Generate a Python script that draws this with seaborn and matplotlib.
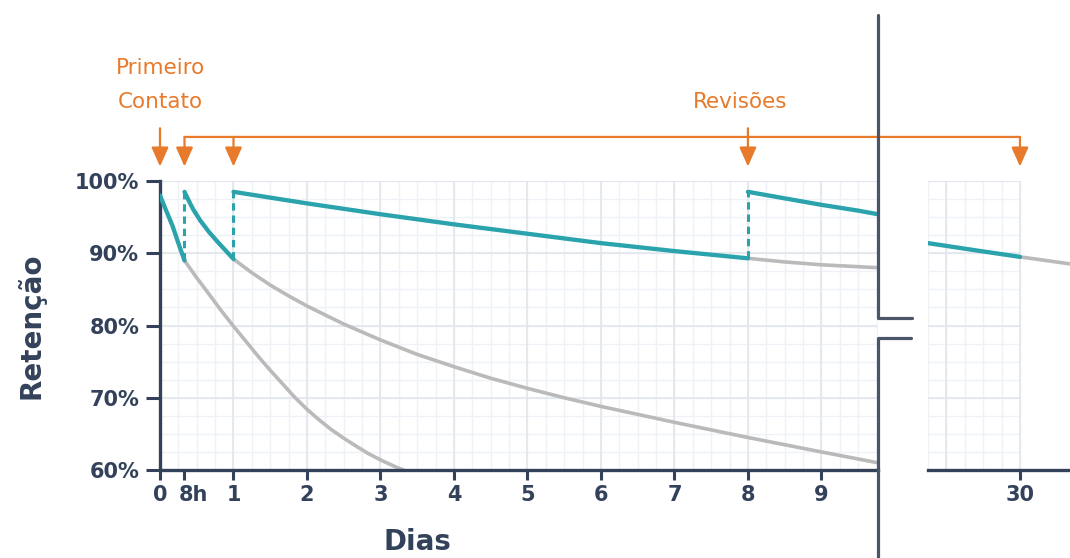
import numpy as np
import pandas as pd
import matplotlib
matplotlib.use('Agg')
import matplotlib.pyplot as plt
import matplotlib.transforms as mtransforms
from matplotlib.lines import Line2D
from matplotlib.patches import ConnectionPatch
import seaborn as sns

# retention with reviews (teal), one segment between each review: days, %
rev1_days = [0, 0.08, 0.17, 0.25, 1/3]
rev1_ret = [98.0, 96.0, 93.8, 91.4, 89.0]
rev2_days = [1/3, 0.4, 0.45, 0.55, 0.67, 0.8, 0.9, 1.0]
rev2_ret = [98.5, 97.1, 96.1, 94.5, 92.9, 91.4, 90.3, 89.2]
rev3_days = [1, 2, 3, 4, 5, 6, 7, 8]
rev3_ret = [98.5, 96.9, 95.4, 94.0, 92.7, 91.4, 90.3, 89.3]
rev4_days = [8, 8.5, 9, 9.5, 9.77]
rev4_ret = [98.5, 97.6, 96.7, 95.9, 95.4]
rev5_days = [28.75, 29.4, 30]
rev5_ret = [91.4, 90.4, 89.5]

# forgetting without the next review (gray)
forg1_days = [1/3, 0.5, 0.67, 0.83, 1.0, 1.17, 1.33, 1.5, 1.67, 1.83, 2.0,
              2.17, 2.33, 2.5, 2.67, 2.83, 3.0, 3.17, 3.33]
forg1_ret = [89.0, 86.6, 84.3, 82.1, 79.9, 77.8, 75.8, 73.8, 71.9, 70.1, 68.4,
             66.9, 65.6, 64.4, 63.3, 62.3, 61.4, 60.6, 59.9]
forg2_days = [1.0, 1.25, 1.5, 1.75, 2.0, 2.5, 3.0, 3.5, 4.0, 4.5, 5.0, 5.5,
              6.0, 7.0, 8.0, 9.0, 9.77]
forg2_ret = [89.2, 87.3, 85.6, 84.1, 82.7, 80.2, 78.0, 76.0, 74.3, 72.7, 71.3,
             70.0, 68.8, 66.6, 64.5, 62.5, 61.0]
forg3_days = [8, 8.5, 9, 9.77]
forg3_ret = [89.3, 88.8, 88.4, 88.0]
forg4_days = [30, 30.7]
forg4_ret = [89.5, 88.5]

review_days = [1/3, 1, 8]
y_ticks = [60, 70, 80, 90, 100]
y_labels = ['60%', '70%', '80%', '90%', '100%']
x_ticks = [0, 1/3, 1, 2, 3, 4, 5, 6, 7, 8, 9]
x_labels = ['0', '8h', '1', '2', '3', '4', '5', '6', '7', '8', '9']

TEAL = '#2aa3ac'
GRAY = '#bababa'
ORANGE = '#e77a2b'
DARK = '#33425a'
BREAK = '#4a5668'
GRID_MAJ = '#e2e6ec'
GRID_MIN = '#eef1f5'


def segs_to_df(segs):
    rows = []
    for i, (d, r) in enumerate(segs):
        rows += [{'seg': i, 'dia': a, 'ret': b} for a, b in zip(d, r)]
    return pd.DataFrame(rows)


teal_left = segs_to_df([(rev1_days, rev1_ret), (rev2_days, rev2_ret),
                        (rev3_days, rev3_ret), (rev4_days, rev4_ret)])
gray_left = segs_to_df([(forg1_days, forg1_ret), (forg2_days, forg2_ret),
                        (forg3_days, forg3_ret)])

sns.set_theme(style='white')
plt.rcParams['font.family'] = ['DejaVu Sans']

W, H = 1070, 558
fig = plt.figure(figsize=(W / 100, H / 100), dpi=100)


def px_box(x0, x1, ytop, ybot):
    return [x0 / W, 1 - ybot / H, (x1 - x0) / W, (ybot - ytop) / H]


ax = fig.add_axes(px_box(160, 878, 181, 470))
ax2 = fig.add_axes(px_box(928, 1070, 181, 470))
ax.set_xlim(0, 9.77)
ax.set_ylim(60, 100)
ax2.set_xlim(28.75, 30.68)
ax2.set_ylim(60, 100)


def draw_grid(a, x0, x1):
    xs = np.arange(x0, x1 + 0.01, 0.25)
    ys = np.arange(60, 100.1, 2.5)
    a.vlines(xs, 60, 100, colors=GRID_MIN, lw=1, zorder=0)
    a.hlines(ys, x0, x1, colors=GRID_MIN, lw=1, zorder=0)
    a.hlines(y_ticks, x0, x1, colors=GRID_MAJ, lw=1.2, zorder=0)
    a.vlines([x for x in xs if float(x).is_integer()], 60, 100, colors=GRID_MAJ, lw=1.2, zorder=0)


draw_grid(ax, 0, 9.75)
draw_grid(ax2, 28.75, 30)

sns.lineplot(data=gray_left, x='dia', y='ret', units='seg', estimator=None,
             color=GRAY, lw=2.6, ax=ax, legend=False, zorder=2)
sns.lineplot(data=teal_left, x='dia', y='ret', units='seg', estimator=None,
             color=TEAL, lw=3.1, ax=ax, legend=False, zorder=3)
sns.lineplot(x=forg4_days, y=forg4_ret, color=GRAY, lw=2.6, ax=ax2, zorder=2)
sns.lineplot(x=rev5_days, y=rev5_ret, color=TEAL, lw=3.1, ax=ax2, zorder=3)

# jumps back up at each review
low = [rev1_ret[-1], rev2_ret[-1], rev3_ret[-1]]
high = [rev2_ret[0], rev3_ret[0], rev4_ret[0]]
ax.vlines(review_days, low, high, colors=TEAL, lw=2.2,
          linestyles=(0, (2.4, 1.6)), zorder=3)

for a in (ax, ax2):
    for s in a.spines.values():
        s.set_visible(False)
    a.spines['bottom'].set_visible(True)
    a.spines['bottom'].set_color(DARK)
    a.spines['bottom'].set_linewidth(2.4)
    a.tick_params(axis='x', colors=DARK, width=2.2, length=7, pad=4,
                  labelsize=15, bottom=True)
ax.spines['left'].set_visible(True)
ax.spines['left'].set_color(DARK)
ax.spines['left'].set_linewidth(2.4)
ax.tick_params(axis='y', colors=DARK, width=2.2, length=10, pad=5,
               labelsize=15, left=True)

ax.set_yticks(y_ticks, y_labels)
ax.set_xticks(x_ticks, x_labels)
ax2.set_xticks([30], ['30'])
ax2.set_yticks([])
for lbl in ax.get_xticklabels() + ax.get_yticklabels() + ax2.get_xticklabels():
    lbl.set_fontweight('bold')

# "8h": the 8 sits on the tick, the h trails after it
lbl8h = ax.get_xticklabels()[1]
lbl8h.set_horizontalalignment('left')
lbl8h.set_transform(lbl8h.get_transform() +
                    mtransforms.ScaledTranslation(-6 / 100, 0, fig.dpi_scale_trans))

ax.set_xlabel('Dias', fontsize=20, fontweight='bold', color=DARK)
ax.set_ylabel('Retenção', fontsize=20, fontweight='bold', color=DARK)
ax.xaxis.set_label_coords(0.359, -0.20)
ax.yaxis.set_label_coords(-0.16, 0.5)
ax2.set_xlabel('')
ax2.set_ylabel('')

# annotations
arrow_kw = dict(arrowstyle='-|>,head_length=0.9,head_width=0.4', color=ORANGE,
                lw=1.6, shrinkA=0, shrinkB=0, mutation_scale=13)
bracket_y = 106.1
tip_y = 102.0
ax.annotate('', xy=(0, tip_y), xytext=(0, 107.3), arrowprops=arrow_kw,
            annotation_clip=False)
for d in review_days:
    start = 107.3 if d == 8 else bracket_y
    ax.annotate('', xy=(d, tip_y), xytext=(d, start), arrowprops=arrow_kw,
                annotation_clip=False)
ax2.annotate('', xy=(30, tip_y), xytext=(30, bracket_y), arrowprops=arrow_kw,
             annotation_clip=False)
bracket = ConnectionPatch((review_days[0], bracket_y), (30, bracket_y),
                          coordsA='data', coordsB='data', axesA=ax, axesB=ax2,
                          color=ORANGE, lw=1.6)
bracket.set_annotation_clip(False)
fig.add_artist(bracket)

ax.text(0, 115.6, 'Primeiro', ha='center', va='center', color=ORANGE, fontsize=15.5)
ax.text(0, 110.9, 'Contato', ha='center', va='center', color=ORANGE, fontsize=15.5)
ax.text(7.9, 110.9, 'Revisões', ha='center', va='center', color=ORANGE, fontsize=15.5)

# axis break marks
bx = 878 / W
fig.add_artist(Line2D([bx, bx, 912 / W], [1 - 15 / H, 1 - 318 / H, 1 - 318 / H],
                      color=BREAK, lw=2.3))
fig.add_artist(Line2D([911 / W, bx, bx], [1 - 338 / H, 1 - 338 / H, 0],
                      color=BREAK, lw=2.3))

plt.savefig('out.png', dpi=100)
